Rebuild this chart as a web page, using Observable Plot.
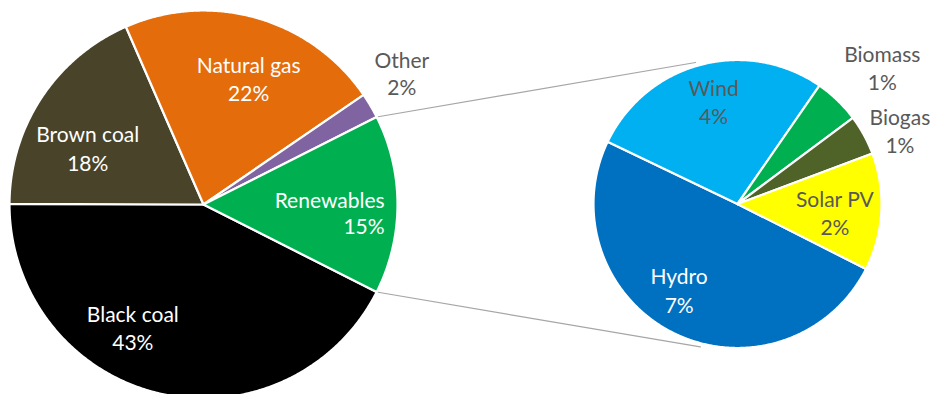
<!DOCTYPE html>
<html>
<head>
<meta charset="utf-8">
<script src="https://cdn.jsdelivr.net/npm/d3@7"></script>
<script src="https://cdn.jsdelivr.net/npm/@observablehq/plot@0.6"></script>
<style>
  html, body { margin: 0; padding: 0; background: #ffffff; }
  #chart svg { display: block; }
</style>
</head>
<body>
<div id="chart"></div>
<script>
// ---- Data ----
const categories = ["Black coal", "Brown coal", "Natural gas", "Other", "Renewables"];
const shares = [42.6, 18.4, 22.0, 2.1, 14.9];
const subCategories = ["Hydro", "Wind", "Biomass", "Biogas", "Solar PV"];
const subShares = [7.4, 4.1, 0.77, 0.67, 1.96];
const splitCategory = "Renewables";

// ---- Styles / layout ----
const colors = {
  "Black coal": "#000000", "Brown coal": "#494429", "Natural gas": "#E46C0A",
  "Other": "#8064A2", "Renewables": "#00B050",
  "Hydro": "#0070C0", "Wind": "#00B0F0", "Biomass": "#00B050",
  "Biogas": "#4F6228", "Solar PV": "#FFFF00"
};
const labelColors = {
  "Black coal": "#FFFFFF", "Brown coal": "#FFFFFF", "Natural gas": "#FFFFFF",
  "Other": "#595959", "Renewables": "#FFFFFF",
  "Hydro": "#FFFFFF", "Wind": "#595959", "Biomass": "#595959",
  "Biogas": "#595959", "Solar PV": "#595959"
};
// label placement: angle offset from slice middle (deg), radius factor, anchor, line gap
const labelLayout = {
  "Black coal": {da: 16, k: 0.74, anchor: "middle", gap: 28},
  "Brown coal": {da: -8, k: 0.66, anchor: "middle", gap: 29},
  "Natural gas": {da: 4, k: 0.68, anchor: "middle", gap: 28},
  "Other": {da: -2.5, k: 1.22, anchor: "middle", gap: 27},
  "Renewables": {da: 3.2, k: 0.935, anchor: "end", gap: 26},
  "Hydro": {da: 7.5, k: 0.73, anchor: "middle", gap: 29},
  "Wind": {da: 1.5, k: 0.72, anchor: "middle", gap: 28},
  "Biomass": {da: 3, k: 1.375, anchor: "middle", gap: 28},
  "Biogas": {da: 4.8, k: 1.233, anchor: "middle", gap: 28},
  "Solar PV": {da: 2.9, k: 0.68, anchor: "middle", gap: 28}
};
const W = 932, H = 394;
const mainPie = {cx: 203, cy: 204, r: 194};
const subPie = {cx: 737, cy: 203.5, r: 144};
const connectorEnds = [{a: -16.5, k: 1.025}, {a: 194.6, k: 1.025}];

// ---- Geometry from the data ----
const rad = Math.PI / 180;
const total = d3.sum(shares);
const splitIdx = categories.indexOf(splitCategory);
const splitAngle = shares[splitIdx] / total * 2 * Math.PI;
const a0 = Math.PI / 2 + splitAngle / 2; // split slice centred at 3 o'clock

function pt(p, a, k = 1) {
  return [p.cx + p.r * k * Math.sin(a), p.cy - p.r * k * Math.cos(a)];
}
function makeSlices(names, values, p, start) {
  const arcs = d3.pie().sort(null).value(d => d).startAngle(start).endAngle(start + 2 * Math.PI)(values);
  return arcs.map((arc, i) => ({name: names[i], value: values[i], start: arc.startAngle, end: arc.endAngle, pie: p}));
}
const mainSlices = makeSlices(categories, shares, mainPie, a0);
const subSlices = makeSlices(subCategories, subShares, subPie, a0);
const allSlices = mainSlices.concat(subSlices);

const polyPoints = [];
for (const s of allSlices) {
  const n = Math.max(4, Math.ceil((s.end - s.start) / (0.4 * rad)));
  polyPoints.push({key: s.name, x: s.pie.cx, y: s.pie.cy, fill: colors[s.name]});
  for (let j = 0; j <= n; j++) {
    const a = s.start + (s.end - s.start) * j / n;
    const [x, y] = pt(s.pie, a);
    polyPoints.push({key: s.name, x, y, fill: colors[s.name]});
  }
  polyPoints.push({key: s.name, x: s.pie.cx, y: s.pie.cy, fill: colors[s.name]});
}

const split = mainSlices[splitIdx];
const connectors = [];
[split.start, split.end].forEach((a, i) => {
  const [x1, y1] = pt(mainPie, a);
  const [x2, y2] = pt(subPie, connectorEnds[i].a * rad, connectorEnds[i].k);
  connectors.push({key: "c" + i, x: x1, y: y1}, {key: "c" + i, x: x2, y: y2});
});

const labels = [];
for (const s of allSlices) {
  const L = labelLayout[s.name];
  const mid = (s.start + s.end) / 2 + L.da * rad;
  const [x, y] = pt(s.pie, mid, L.k);
  const pct = Math.round(s.value) + "%";
  labels.push({x, y: y - L.gap / 2, text: s.name, color: labelColors[s.name], anchor: L.anchor});
  labels.push({x, y: y + L.gap / 2, text: pct, color: labelColors[s.name], anchor: L.anchor});
}

const textOpts = {x: "x", y: "y", text: "text", fill: "color", fontSize: 21, fontFamily: "Lato, 'Open Sans', sans-serif"};

const chart = Plot.plot({
  width: W,
  height: H,
  margin: 0,
  style: {background: "#ffffff"},
  x: {type: "linear", domain: [0, W], range: [0, W], axis: null},
  y: {type: "linear", domain: [0, H], range: [0, H], axis: null},
  marks: [
    Plot.line(connectors, {x: "x", y: "y", z: "key", stroke: "#A6A6A6", strokeWidth: 1.2}),
    Plot.line(polyPoints, {x: "x", y: "y", z: "key", fill: "fill", stroke: "#ffffff", strokeWidth: 2.2, strokeLinejoin: "round"}),
    Plot.text(labels.filter(d => d.anchor === "middle"), {...textOpts, textAnchor: "middle"}),
    Plot.text(labels.filter(d => d.anchor === "end"), {...textOpts, textAnchor: "end"})
  ]
});
document.getElementById("chart").appendChild(chart);
</script>
</body>
</html>
